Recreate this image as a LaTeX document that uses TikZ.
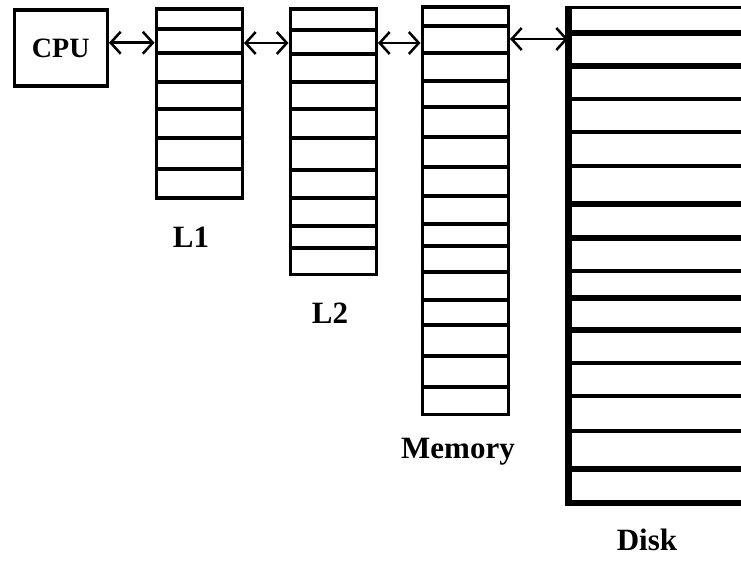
\documentclass[tikz,border=0pt]{standalone}
\usepackage{fontspec}
\setmainfont{Liberation Serif}
\usetikzlibrary{arrows.meta}
\begin{document}
\begin{tikzpicture}[x=1pt,y=-1pt,
  stack/.style={draw, line width=3.5pt, inner sep=0pt, anchor=north west},
  divider/.style={line width=3.2pt},
  thickdiv/.style={line width=5.5pt},
  arr/.style={line width=2.5pt, {Straight Barb[length=10pt,width=22pt,line width=2.5pt]}-{Straight Barb[length=10pt,width=22pt,line width=2.5pt]}},
  lbl/.style={font=\bfseries\fontsize{31}{33}\selectfont, inner sep=0pt}]
\useasboundingbox (0,0) rectangle (741,561);
\clip (0,0) rectangle (741,561);
% CPU
\node[stack, minimum width=93pt, minimum height=76pt, font=\bfseries\fontsize{28}{30}\selectfont] (cpu) at (12.5,8.5) {CPU};
% L1
\node[stack, minimum width=86pt, minimum height=189pt] (l1) at (154.5,7.5) {};
\foreach \y in {29,53,82,109,138,169}
  \draw[divider] (l1.west |- 0,\y) -- (l1.east |- 0,\y);
% L2
\node[stack, minimum width=86pt, minimum height=265pt] (l2) at (288.5,7.5) {};
\foreach \y in {30,54,82,109,138,170,198,226,248}
  \draw[divider] (l2.west |- 0,\y) -- (l2.east |- 0,\y);
% Memory
\node[stack, minimum width=86pt, minimum height=407pt] (mem) at (420.5,5.5) {};
\foreach \y in {26,53,81,107,137,167,196,224,246,272,300,325,356,387}
  \draw[divider] (mem.west |- 0,\y) -- (mem.east |- 0,\y);
% Disk
\node[inner sep=0pt, minimum width=200pt, minimum height=495pt, anchor=north west] (disk) at (568,7.5) {};
\draw[line width=3.2pt] (disk.north west) -- (disk.north east);
\draw[line width=5.5pt] (disk.south west) -- (disk.south east);
\draw[line width=7pt] ([yshift=1.6pt]disk.north west) -- ([yshift=-2.75pt]disk.south west);
\foreach \y in {33,66,204,238,298,330,469}
  \draw[thickdiv] (disk.west |- 0,\y) -- (disk.east |- 0,\y);
\foreach \y in {99,132,166,271,363,396,431}
  \draw[divider] (disk.west |- 0,\y) -- (disk.east |- 0,\y);
% connectors
\draw[arr] ([yshift=5.5pt]cpu.east) -- ([yshift=5.5pt]cpu.east -| l1.west);
\draw[arr] ([yshift=-35.5pt]l1.north east) -- ([yshift=-35.5pt]l1.north east -| l2.west);
\draw[arr] ([yshift=-35.5pt]l2.north east) -- ([yshift=-35.5pt]l2.north east -| mem.west);
\draw[arr] ([yshift=-33.5pt]mem.north east) -- ([yshift=-33.5pt]mem.north east -| disk.west);
% labels
\node[lbl] (l1lbl) at (191,237) {L1};
\node[lbl] (l2lbl) at (330,313) {L2};
\node[lbl] (memlbl) at (458,452) {Memory};
\node[lbl] (disklbl) at (647,540) {Disk};
\end{tikzpicture}
\end{document}
